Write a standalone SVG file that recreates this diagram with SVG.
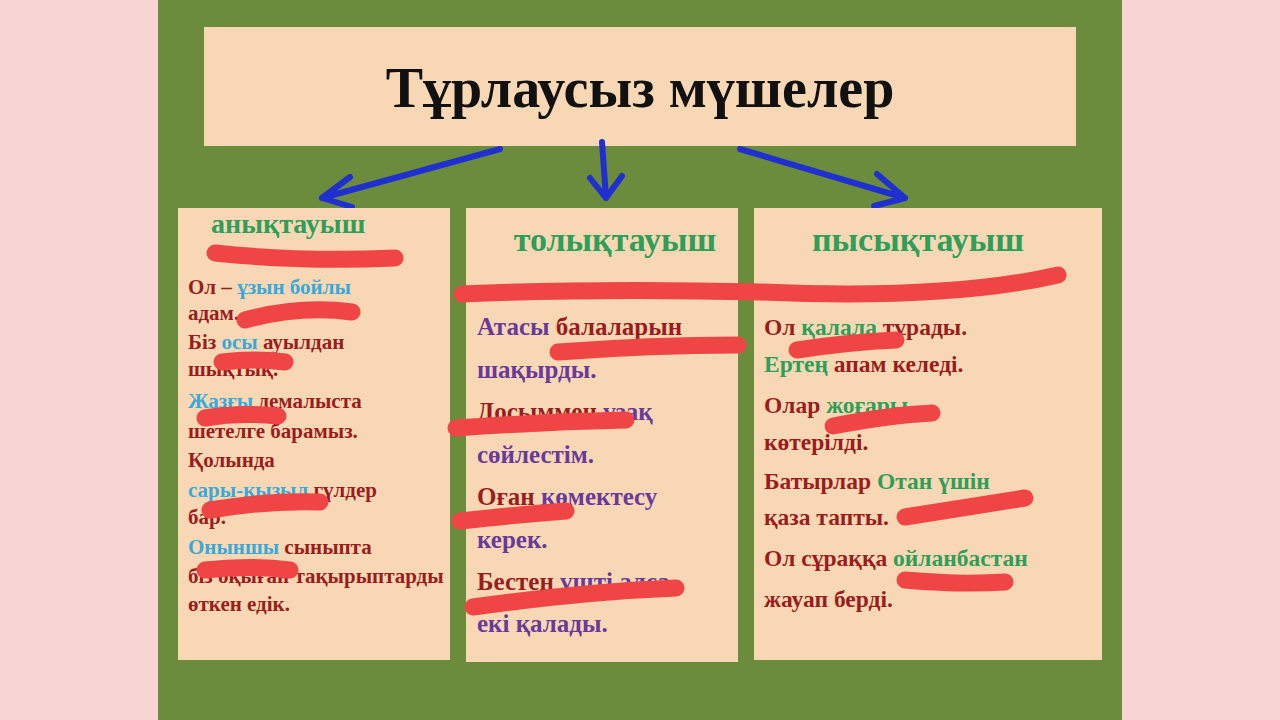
<svg xmlns="http://www.w3.org/2000/svg" width="1280" height="720" viewBox="0 0 1280 720">
<style>
text{font-family:"Liberation Serif","DejaVu Serif",serif;font-weight:bold}
.box{fill:#f8d8b4}
.r{fill:#9b1c1c}.b{fill:#3aa8d8}.g{fill:#2e9e58}.p{fill:#6a3a9a}
.s{stroke:#f04545;stroke-width:17;stroke-linecap:round;fill:none}
.a{stroke:#1f2fd0;stroke-width:6;fill:none;stroke-linecap:round}
</style>
<rect width="1280" height="720" fill="#f9d4d4"/>
<rect x="158" y="0" width="964" height="720" fill="#6a8c3c"/>
<g id="title"><rect class="box" x="204" y="27" width="872" height="119"/>
<text x="640" y="107" font-size="56" text-anchor="middle" fill="#111">Тұрлаусыз мүшелер</text></g>
<g id="connectors">
<path class="a" d="M500 149 L322 198 M322 198 L350 177 M322 198 L352 207"/>
<path class="a" d="M602 142 L606 198 M606 198 L590 178 M606 198 L622 176"/>
<path class="a" d="M740 149 L905 198 M905 198 L877 174 M905 198 L874 206"/>
</g>
<g id="n1"><rect class="box" x="178" y="208" width="272" height="452"/>
<text x="211" y="233" font-size="28" class="g">анықтауыш</text>
<g font-size="21">
<text x="188" y="294" class="r">Ол – <tspan class="b">ұзын бойлы</tspan></text>
<text x="188" y="320" class="r">адам.</text>
<text x="188" y="349" class="r">Біз <tspan class="b">осы</tspan> ауылдан</text>
<text x="188" y="376" class="r">шықтық.</text>
<text x="188" y="408" class="r"><tspan class="b">Жазғы</tspan> демалыста</text>
<text x="188" y="438" class="r">шетелге барамыз.</text>
<text x="188" y="467" class="r">Қолында</text>
<text x="188" y="497" class="r"><tspan class="b">сары-қызыл</tspan> гүлдер</text>
<text x="188" y="524" class="r">бар.</text>
<text x="188" y="554" class="r"><tspan class="b">Оныншы</tspan> сыныпта</text>
<text x="188" y="583" class="r">біз оқыған тақырыптарды</text>
<text x="188" y="611" class="r">өткен едік.</text>
</g>
<path class="s" d="M215 253 Q300 262 395 258"/>
<path class="s" d="M245 320 Q300 305 352 312"/>
<path class="s" d="M222 362 Q255 358 285 362"/>
<path class="s" d="M205 418 Q240 412 278 416"/>
<path class="s" d="M210 510 Q270 500 320 502"/>
<path class="s" d="M205 570 Q250 565 290 570"/>
</g>
<g id="n2"><rect class="box" x="466" y="208" width="272" height="454"/>
<text x="615" y="251" font-size="34" class="g" text-anchor="middle">толықтауыш</text>
<g font-size="25">
<text x="477" y="335" class="p">Атасы <tspan class="r">балаларын</tspan></text>
<text x="477" y="378" class="p">шақырды.</text>
<text x="477" y="420" class="r">Досыммен <tspan class="p">ұзақ</tspan></text>
<text x="477" y="463" class="p">сөйлестім.</text>
<text x="477" y="505" class="r">Оған <tspan class="p">көмектесу</tspan></text>
<text x="477" y="548" class="p">керек.</text>
<text x="477" y="590" class="r">Бестен <tspan class="p">үшті алса,</tspan></text>
<text x="477" y="632" class="p">екі қалады.</text>
</g>
<path class="s" d="M558 352 Q650 345 738 345"/>
<path class="s" d="M456 428 Q540 422 626 420"/>
<path class="s" d="M460 521 Q515 515 566 511"/>
<path class="s" d="M473 607 Q580 592 676 588"/>
</g>
<g id="n3"><rect class="box" x="754" y="208" width="348" height="452"/>
<text x="918" y="251" font-size="34" class="g" text-anchor="middle">пысықтауыш</text>
<g font-size="23.5">
<text x="764" y="335" class="r">Ол <tspan class="g">қалала</tspan> тұрады.</text>
<text x="764" y="372" class="r"><tspan class="g">Ертең</tspan> апам келеді.</text>
<text x="764" y="413" class="r">Олар <tspan class="g">жоғары</tspan></text>
<text x="764" y="450" class="r">көтерілді.</text>
<text x="764" y="489" class="r">Батырлар <tspan class="g">Отан үшін</tspan></text>
<text x="764" y="525" class="r">қаза тапты.</text>
<text x="764" y="566" class="r">Ол сұраққа <tspan class="g">ойланбастан</tspan></text>
<text x="764" y="607" class="r">жауап берді.</text>
</g>
<path class="s" d="M797 350 Q850 342 896 340"/>
<path class="s" d="M833 426 Q890 415 932 413"/>
<path class="s" d="M905 517 Q980 505 1025 498"/>
<path class="s" d="M905 580 Q960 585 1005 582"/>
</g>
<path class="s" d="M462 294 Q600 288 760 292 Q950 300 1058 275"/>
</svg>
